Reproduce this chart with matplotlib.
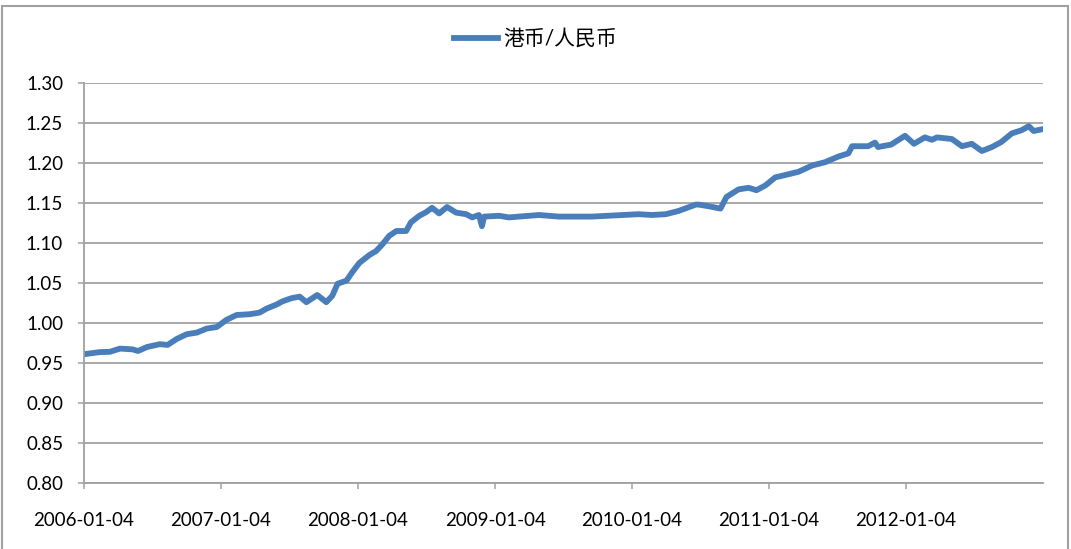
import numpy as np
import pandas as pd
import matplotlib
matplotlib.use("Agg")
import matplotlib.pyplot as plt
import matplotlib.dates as mdates
from matplotlib.patches import Rectangle

# HKD/CNY
dates = ["2006-01-04", "2006-02-15", "2006-03-14", "2006-04-10", "2006-05-14", "2006-05-28",
         "2006-06-21", "2006-07-25", "2006-08-15", "2006-09-08", "2006-10-05", "2006-11-01",
         "2006-11-27", "2006-12-24", "2007-01-19", "2007-02-15", "2007-03-22", "2007-04-17",
         "2007-05-06", "2007-06-01", "2007-06-17", "2007-07-11", "2007-08-02", "2007-08-20",
         "2007-09-05", "2007-09-18", "2007-10-12", "2007-10-28", "2007-11-11", "2007-12-05",
         "2007-12-21", "2008-01-08", "2008-02-04", "2008-02-22", "2008-03-09", "2008-03-28",
         "2008-04-16", "2008-05-12", "2008-05-25", "2008-06-16", "2008-07-04", "2008-07-20",
         "2008-08-08", "2008-08-29", "2008-09-22", "2008-10-19", "2008-11-04", "2008-11-22",
         "2008-11-30", "2008-12-06", "2009-01-15", "2009-02-10", "2009-05-01", "2009-06-23",
         "2009-09-19", "2010-01-22", "2010-02-26", "2010-04-04", "2010-05-08", "2010-06-23",
         "2010-07-01", "2010-07-27", "2010-08-28", "2010-09-13", "2010-10-15", "2010-11-11",
         "2010-12-02", "2010-12-26", "2011-01-21", "2011-02-17", "2011-03-24", "2011-04-30",
         "2011-06-03", "2011-07-08", "2011-08-04", "2011-08-14", "2011-09-26", "2011-10-14",
         "2011-10-22", "2011-11-26", "2012-01-02", "2012-01-26", "2012-02-24", "2012-03-14",
         "2012-03-27", "2012-05-06", "2012-06-02", "2012-06-28", "2012-07-25", "2012-08-21",
         "2012-09-14", "2012-10-13", "2012-11-08", "2012-11-27", "2012-12-10", "2012-12-31"]
hkd_cny = [0.961, 0.9636, 0.964, 0.968, 0.967, 0.965,
           0.970, 0.9735, 0.9726, 0.980, 0.986, 0.988,
           0.993, 0.995, 1.004, 1.010, 1.011, 1.013,
           1.018, 1.023, 1.027, 1.031, 1.033, 1.026,
           1.031, 1.035, 1.026, 1.034, 1.049, 1.053,
           1.064, 1.075, 1.085, 1.090, 1.098, 1.109,
           1.115, 1.115, 1.126, 1.134, 1.1385, 1.144,
           1.137, 1.145, 1.138, 1.136, 1.132, 1.135,
           1.121, 1.133, 1.134, 1.132, 1.135, 1.133,
           1.133, 1.136, 1.135, 1.136, 1.140, 1.148,
           1.148, 1.146, 1.143, 1.1575, 1.167, 1.169,
           1.166, 1.172, 1.182, 1.185, 1.189, 1.197,
           1.201, 1.208, 1.212, 1.221, 1.221, 1.2255,
           1.220, 1.223, 1.234, 1.224, 1.232, 1.229,
           1.232, 1.230, 1.221, 1.224, 1.215, 1.220,
           1.226, 1.237, 1.241, 1.246, 1.240, 1.242]
tick_dates = ["2006-01-04", "2007-01-04", "2008-01-04", "2009-01-04",
              "2010-01-04", "2011-01-04", "2012-01-04"]
yticks = np.arange(0.80, 1.3001, 0.05)

plt.rcParams['font.family'] = ['Lato', 'Noto Sans CJK SC', 'DejaVu Sans']
grey = '#A0A0A0'

W, H = 1071, 549
fig = plt.figure(figsize=(W/100, H/100), dpi=100)
ax = fig.add_axes([84/W, 1-483/H, (1043-84)/W, 400/H])

x = pd.to_datetime(dates)
ax.plot(x, hkd_cny, color='#4A7EBB', lw=4.2, solid_joinstyle='round', label='港币/人民币')

ax.set_ylim(0.80, 1.30)
ax.set_yticks(yticks)
ax.set_yticklabels([f"{v:.2f}" for v in yticks])
ax.set_xlim(pd.Timestamp("2006-01-04"), pd.Timestamp("2013-01-04"))
ax.set_xticks(pd.to_datetime(tick_dates))
ax.xaxis.set_major_formatter(mdates.DateFormatter('%Y-%m-%d'))

ax.grid(axis='y', color=grey, lw=1.3)
ax.set_axisbelow(True)
for s in ['top', 'right']:
    ax.spines[s].set_visible(False)
for s in ['left', 'bottom']:
    ax.spines[s].set_color(grey)
    ax.spines[s].set_linewidth(1.3)
ax.tick_params(axis='y', length=4, width=1.1, color=grey, pad=11, labelsize=13.5)
ax.tick_params(axis='x', length=4, width=1.1, color=grey, pad=17, labelsize=13.5)

fig.legend(loc='center', bbox_to_anchor=(0.5, 1-39/H), frameon=False,
           fontsize=15, handlelength=2.1, handletextpad=0.25)

# chart border
fig.patches.append(Rectangle((2/W, -0.02), (1068-2)/W, 1.02-6/H, transform=fig.transFigure,
                             fill=False, edgecolor=grey, lw=1.5))

fig.savefig('out.png', dpi=100)
